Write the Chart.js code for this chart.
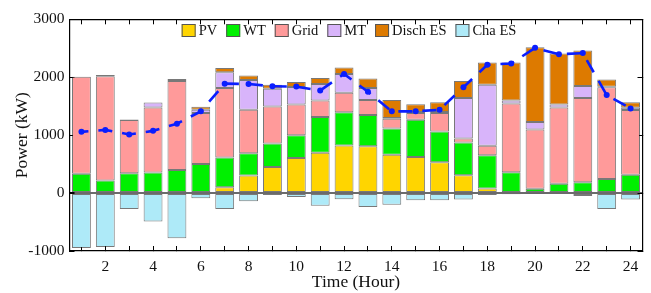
<!DOCTYPE html>
<html>
<head>
<meta charset="utf-8">
<script src="https://cdn.jsdelivr.net/npm/chart.js@4.4.0/dist/chart.umd.min.js"></script>
<style>
  html, body { margin: 0; padding: 0; background: #fff; }
  #wrap { width: 651px; height: 293px; }
</style>
</head>
<body>
<div id="wrap"><canvas id="powerChart" width="651" height="293"></canvas></div>
<script>
// hourly dispatch, kW
var hours  = [1, 2, 3, 4, 5, 6, 7, 8, 9, 10, 11, 12, 13, 14, 15, 16, 17, 18, 19, 20, 21, 22, 23, 24];
var pv     = [0, 0, 0, 0, 0, 0, 101, 304, 450, 607, 697, 821, 809, 663, 624, 534, 309, 79, 0, 0, 0, 0, 0, 0];
var wt     = [332, 219, 343, 354, 400, 501, 511, 382, 405, 393, 618, 573, 540, 450, 641, 528, 562, 573, 360, 73, 163, 186, 242, 315];
var grid   = [1675, 1799, 917, 1125, 1534, 882, 1204, 753, 641, 529, 282, 338, 259, 169, 118, 321, 73, 163, 1186, 1023, 1316, 1455, 1585, 1118];
var mt     = [0, 0, 0, 84, 34, 56, 270, 512, 303, 304, 287, 325, 208, 15, 17, 17, 697, 1057, 51, 130, 50, 209, 10, 40];
var dischES = [0, 20, 10, 0, 0, 51, 73, 78, 73, 84, 101, 113, 163, 311, 135, 168, 293, 382, 657, 1292, 882, 612, 125, 95];
var chaES  = [-950, -933, -275, -489, -781, -89, -275, -140, -34, -67, -219, -107, -242, -202, -124, -124, -112, -34, -22, -11, 0, -51, -275, -112];
var load   = [1057, 1091, 1012, 1074, 1197, 1411, 1889, 1884, 1843, 1838, 1771, 2057, 1748, 1411, 1411, 1439, 1827, 2215, 2237, 2507, 2395, 2417, 1692, 1462];

var serif = "'Liberation Serif', 'Times New Roman', serif";
var edge = 'rgba(30,30,30,0.6)';

function barSet(label, values, color) {
    return {
        type: 'bar',
        label: label,
        data: values,
        backgroundColor: color,
        borderColor: edge,
        borderWidth: 1,
        borderSkipped: false,
        barPercentage: 0.79,
        categoryPercentage: 1.0,
        stack: 'supply',
        order: 1
    };
}

// legend drawn inside the plot area, centred near the top
var innerLegend = {
    id: 'innerLegend',
    afterDraw: function (chart) {
        var c = chart.ctx;
        var items = chart.data.datasets.filter(function (d) { return d.type === 'bar'; });
        c.save();
        c.font = '14.5px ' + serif;
        c.textBaseline = 'middle';
        var box = 14, gapTxt = 3, gapItem = 9;
        var total = 0;
        items.forEach(function (d, i) {
            total += box + gapTxt + c.measureText(d.label).width + (i < items.length - 1 ? gapItem : 0);
        });
        var x = 349 - total / 2, y = 24;
        items.forEach(function (d) {
            c.fillStyle = d.backgroundColor;
            c.fillRect(x, y, box, 13);
            c.strokeStyle = '#555';
            c.lineWidth = 1;
            c.strokeRect(x + 0.5, y + 0.5, box - 1, 12);
            x += box + gapTxt;
            c.fillStyle = '#111';
            c.fillText(d.label, x, y + 7);
            x += c.measureText(d.label).width + gapItem;
        });
        c.restore();
    }
};

var ctx = document.getElementById('powerChart');
var powerChart = new Chart(ctx, {
    data: {
        labels: hours,
        datasets: [
            barSet('PV', pv, '#FFD500'),
            barSet('WT', wt, '#00F000'),
            barSet('Grid', grid, '#FF9A9A'),
            barSet('MT', mt, '#D8B4FA'),
            barSet('Disch ES', dischES, '#DD7A00'),
            barSet('Cha ES', chaES, '#AEEAF8'),
            {
                type: 'line',
                label: 'Load',
                data: load,
                stack: 'load',
                order: 0,
                borderColor: '#0A1EFF',
                backgroundColor: '#0A1EFF',
                borderWidth: 2.6,
                borderDash: [14, 10],
                borderDashOffset: 7,
                pointRadius: 3,
                pointBorderWidth: 0,
                pointBackgroundColor: '#0A1EFF',
                fill: false,
                tension: 0
            }
        ]
    },
    options: {
        responsive: false,
        devicePixelRatio: 1,
        animation: false,
        layout: { padding: { left: 0, right: 0, top: 0, bottom: 0 } },
        plugins: {
            legend: { display: false },
            tooltip: { enabled: false }
        },
        scales: {
            x: {
                type: 'category',
                position: 'bottom',
                stacked: true,
                offset: true,
                afterFit: function (s) { s.height = 42; },
                grid: { offset: false, drawOnChartArea: false, tickLength: -5, tickColor: '#000' },
                border: { color: '#000', width: 1.2 },
                ticks: {
                    autoSkip: false,
                    maxRotation: 0,
                    padding: 12,
                    color: '#111',
                    font: { family: serif, size: 15.5 },
                    callback: function (v, i) { return hours[i] % 2 === 0 ? String(hours[i]) : ''; }
                },
                title: {
                    display: true,
                    text: 'Time (Hour)',
                    color: '#111',
                    font: { family: serif, size: 17.5, lineHeight: 1.1 },
                    padding: { top: 0, bottom: 1 }
                }
            },
            x2: {
                type: 'category',
                position: 'top',
                offset: true,
                afterFit: function (s) { s.height = 14; },
                grid: { offset: false, drawOnChartArea: false, tickLength: -5, tickColor: '#000' },
                border: { color: '#000', width: 1.2 },
                ticks: { display: false }
            },
            y: {
                position: 'left',
                stacked: true,
                min: -1000,
                max: 3000,
                z: 1,
                afterFit: function (s) { s.width = 69.5; },
                grid: {
                    tickLength: -5,
                    tickColor: '#000',
                    lineWidth: function (c) { return c.tick && c.tick.value === 0 ? 2 : 1; },
                    color: function (c) {
                        return c.tick && c.tick.value === 0 ? 'rgba(70,70,70,0.8)' : 'rgba(0,0,0,0)';
                    }
                },
                border: { color: '#000', width: 1.2 },
                ticks: {
                    stepSize: 1000,
                    padding: 10,
                    color: '#111',
                    font: { family: serif, size: 15.5 },
                    callback: function (v) { return String(v); }
                },
                title: {
                    display: true,
                    text: 'Power (kW)',
                    color: '#111',
                    font: { family: serif, size: 17.5, lineHeight: 1.2 },
                    padding: { top: 12, bottom: 0 }
                }
            },
            y2: {
                position: 'right',
                min: -1000,
                max: 3000,
                afterFit: function (s) { s.width = 8.5; },
                grid: { drawOnChartArea: false, tickLength: -5, tickColor: '#000' },
                border: { color: '#000', width: 1.2 },
                ticks: { stepSize: 1000, display: false }
            }
        }
    },
    plugins: [innerLegend]
});
</script>
</body>
</html>
